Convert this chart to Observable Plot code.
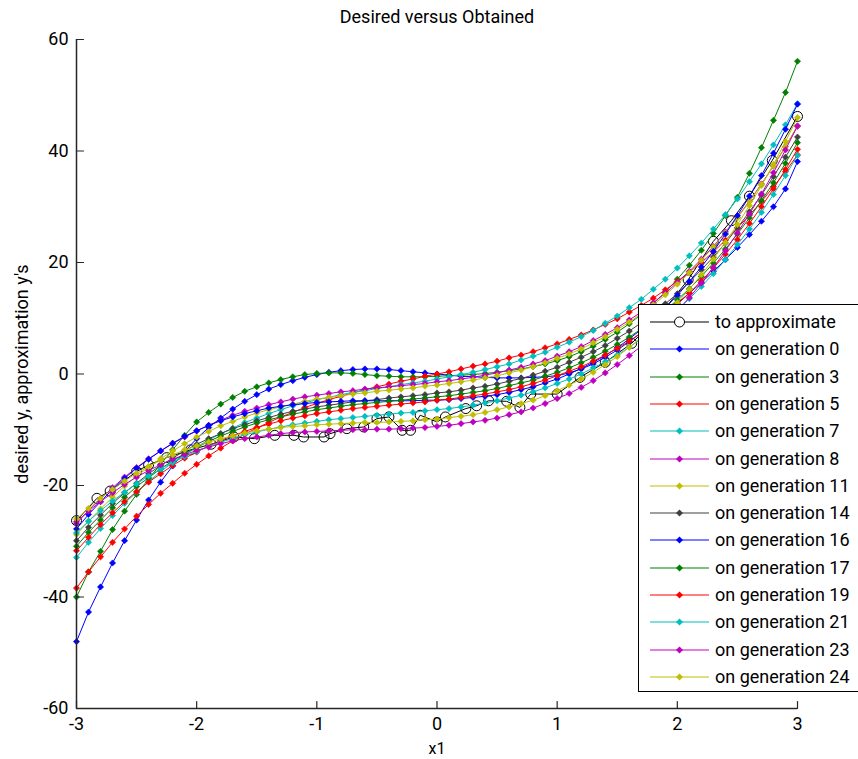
<!DOCTYPE html>
<html><head><meta charset="utf-8">
<script src="https://cdn.jsdelivr.net/npm/d3@7"></script>
<script src="https://cdn.jsdelivr.net/npm/@observablehq/plot@0.6"></script>
<style>
body{margin:0;background:#fff;}
#wrap{position:relative;width:858px;height:759px;overflow:hidden;font-family:Roboto,"Liberation Sans",Arial,sans-serif;}
#legend{position:absolute;left:638px;top:304px;width:240px;height:388px;background:#fff;border:1px solid #000;box-sizing:border-box;}
.row{position:absolute;left:0;height:24px;width:240px;}
.row svg{position:absolute;left:11px;top:0;}
.row span{position:absolute;left:76px;top:0;line-height:24px;font-size:18px;color:#000;white-space:nowrap;}
</style></head><body><div id="wrap"></div>
<script>
const xs = [-3,-2.9,-2.8,-2.7,-2.6,-2.5,-2.4,-2.3,-2.2,-2.1,-2,-1.9,-1.8,-1.7,-1.6,-1.5,-1.4,-1.3,-1.2,-1.1,-1,-0.9,-0.8,-0.7,-0.6,-0.5,-0.4,-0.3,-0.2,-0.1,0,0.1,0.2,0.3,0.4,0.5,0.6,0.7,0.8,0.9,1,1.1,1.2,1.3,1.4,1.5,1.6,1.7,1.8,1.9,2,2.1,2.2,2.3,2.4,2.5,2.6,2.7,2.8,2.9,3];

const targetX = [-3.0,-2.83,-2.72,-2.5,-2.4,-2.25,-2.05,-1.88,-1.69,-1.52,-1.35,-1.19,-1.11,-0.94,-0.89,-0.75,-0.61,-0.5,-0.4,-0.29,-0.22,-0.14,0.0,0.07,0.24,0.33,0.43,0.58,0.69,0.78,1.0,1.19,1.4,1.62,1.85,2.09,2.3,2.45,2.6,2.79,3.0];
const targetY = [-26.3,-22.3,-21.0,-17.5,-16.3,-15.0,-13.6,-12.6,-11.3,-11.6,-11.0,-11.0,-11.3,-11.3,-10.7,-9.8,-9.5,-8.0,-7.7,-10.1,-10.1,-7.4,-8.6,-7.7,-6.2,-5.7,-4.8,-4.9,-6.0,-3.6,-3.6,-0.6,2.1,5.5,10.5,16.9,23.8,27.5,31.9,38.3,46.2];

const gen0 = [-48.0,-42.7,-38.2,-33.9,-29.9,-26.2,-22.6,-19.4,-16.5,-13.9,-11.6,-9.6,-7.9,-6.3,-4.9,-3.7,-2.7,-1.9,-1.2,-0.6,-0.1,0.3,0.6,0.8,0.9,0.9,0.8,0.6,0.4,0.2,0.0,-0.2,-0.4,-0.5,-0.6,-0.7,-0.7,-0.7,-0.6,-0.5,-0.3,0.2,0.9,1.8,3.0,4.3,5.8,7.4,9.1,10.9,12.7,14.5,16.4,18.4,20.5,22.7,25.0,27.4,30.0,33.2,38.1];
const gen3 = [-40.0,-35.5,-31.8,-27.9,-24.6,-21.6,-18.8,-16.2,-13.6,-11.0,-8.6,-6.9,-5.4,-4.2,-3.1,-2.3,-1.6,-1.0,-0.5,-0.1,0.1,0.2,0.2,0.1,-0.1,-0.3,-0.4,-0.5,-0.5,-0.5,-0.4,-0.3,-0.2,-0.1,0.1,0.3,0.6,0.9,1.3,1.8,2.4,3.1,4.0,5.0,6.2,7.5,9.0,10.7,12.6,14.7,17.0,19.5,22.2,25.2,28.4,31.7,36.0,40.6,45.5,50.5,56.1];
const gen5 = [-38.4,-35.5,-32.8,-30.2,-27.8,-25.5,-23.4,-21.4,-19.6,-17.8,-16.2,-14.7,-13.3,-12.0,-10.8,-9.7,-8.7,-7.7,-6.9,-6.0,-5.3,-4.6,-4.0,-3.4,-2.8,-2.3,-1.8,-1.3,-0.9,-0.4,0.0,0.4,0.9,1.4,1.8,2.3,2.9,3.4,4.0,4.7,5.4,6.2,7.0,7.9,8.9,9.9,11.1,12.3,13.6,15.1,16.6,18.3,20.0,21.9,24.0,26.2,28.5,30.9,33.6,36.3,39.3];
const gen7 = [-32.9,-30.2,-27.7,-25.4,-23.2,-21.2,-19.3,-17.5,-15.9,-14.5,-13.1,-11.8,-10.7,-9.7,-8.7,-7.9,-7.1,-6.4,-5.7,-5.2,-4.6,-4.2,-3.7,-3.3,-3.0,-2.6,-2.3,-1.9,-1.6,-1.3,-0.9,-0.5,-0.1,0.3,0.8,1.3,1.8,2.5,3.2,3.9,4.8,5.7,6.7,7.8,9.1,10.4,11.9,13.4,15.2,17.0,19.0,21.2,23.5,26.0,28.6,31.4,34.5,37.7,41.1,44.7,48.5];
const gen8 = [-26.8,-24.5,-22.4,-20.4,-18.5,-16.8,-15.2,-13.8,-12.5,-11.3,-10.2,-9.2,-8.3,-7.4,-6.7,-6.1,-5.5,-5.0,-4.5,-4.1,-3.8,-3.5,-3.2,-3.0,-2.7,-2.5,-2.3,-2.1,-1.9,-1.7,-1.4,-1.2,-0.9,-0.6,-0.2,0.2,0.7,1.2,1.8,2.4,3.2,4.0,4.9,6.0,7.1,8.3,9.7,11.1,12.8,14.5,16.4,18.4,20.6,22.9,25.5,28.1,31.0,34.1,37.3,40.8,44.4];
const gen11 = [-28.8,-26.4,-24.2,-22.1,-20.1,-18.3,-16.7,-15.2,-13.8,-12.5,-11.3,-10.3,-9.3,-8.5,-7.7,-7.0,-6.4,-5.9,-5.4,-4.9,-4.5,-4.2,-3.9,-3.6,-3.4,-3.1,-2.9,-2.7,-2.5,-2.2,-2.0,-1.7,-1.4,-1.1,-0.7,-0.3,0.2,0.7,1.3,2.0,2.8,3.6,4.5,5.6,6.7,8.0,9.3,10.8,12.4,14.2,16.1,18.2,20.4,22.8,25.3,28.0,30.9,34.0,37.3,40.8,44.5];
const gen14 = [-29.9,-27.5,-25.3,-23.2,-21.3,-19.6,-17.9,-16.4,-15.1,-13.8,-12.6,-11.6,-10.7,-9.8,-9.1,-8.4,-7.8,-7.2,-6.7,-6.3,-5.9,-5.6,-5.3,-5.0,-4.8,-4.6,-4.3,-4.1,-3.9,-3.7,-3.4,-3.2,-2.9,-2.5,-2.2,-1.8,-1.3,-0.8,-0.2,0.5,1.2,2.1,3.0,4.0,5.1,6.4,7.7,9.2,10.8,12.6,14.4,16.5,18.7,21.0,23.5,26.2,29.1,32.1,35.4,38.9,42.5];
const gen16 = [-27.8,-25.2,-22.9,-20.7,-18.7,-16.9,-15.3,-13.8,-12.4,-11.2,-10.2,-9.2,-8.4,-7.7,-7.1,-6.6,-6.1,-5.8,-5.5,-5.3,-5.1,-5.0,-4.9,-4.8,-4.8,-4.8,-4.8,-4.8,-4.8,-4.7,-4.7,-4.6,-4.4,-4.2,-4.0,-3.7,-3.3,-2.8,-2.3,-1.6,-0.9,0.0,1.0,2.1,3.3,4.7,6.3,8.0,9.9,11.9,14.1,16.6,19.2,22.0,25.1,28.4,31.9,35.6,39.6,43.9,48.4];
const gen17 = [-30.9,-28.4,-26.2,-24.0,-22.1,-20.2,-18.6,-17.0,-15.6,-14.3,-13.2,-12.1,-11.1,-10.3,-9.5,-8.8,-8.2,-7.7,-7.2,-6.8,-6.4,-6.1,-5.8,-5.5,-5.3,-5.1,-4.9,-4.7,-4.5,-4.3,-4.1,-3.9,-3.6,-3.3,-3.0,-2.6,-2.1,-1.6,-1.1,-0.4,0.3,1.1,2.0,3.0,4.1,5.3,6.6,8.1,9.7,11.4,13.3,15.3,17.5,19.9,22.4,25.1,28.0,31.1,34.3,37.8,41.5];
const gen19 = [-31.7,-29.3,-27.0,-24.9,-22.9,-21.1,-19.4,-17.9,-16.4,-15.1,-14.0,-12.9,-11.9,-11.1,-10.3,-9.6,-9.0,-8.4,-7.9,-7.5,-7.1,-6.8,-6.5,-6.2,-6.0,-5.8,-5.6,-5.4,-5.2,-5.0,-4.7,-4.5,-4.2,-3.9,-3.6,-3.2,-2.8,-2.3,-1.7,-1.1,-0.3,0.5,1.3,2.3,3.4,4.6,5.9,7.4,9.0,10.7,12.5,14.5,16.7,19.0,21.5,24.1,27.0,30.0,33.2,36.7,40.3];
const gen21 = [-28.5,-26.4,-24.5,-22.8,-21.2,-19.7,-18.3,-17.0,-15.9,-14.8,-13.9,-13.0,-12.2,-11.6,-10.9,-10.4,-9.9,-9.5,-9.1,-8.8,-8.5,-8.2,-8.0,-7.8,-7.6,-7.4,-7.2,-7.0,-6.9,-6.6,-6.4,-6.2,-5.9,-5.6,-5.2,-4.8,-4.3,-3.8,-3.2,-2.5,-1.7,-0.9,0.0,1.1,2.2,3.4,4.8,6.3,7.9,9.6,11.5,13.5,15.7,18.0,20.5,23.2,26.0,29.0,32.2,35.6,39.2];
const gen23 = [-26.5,-24.6,-22.9,-21.3,-19.8,-18.5,-17.3,-16.3,-15.3,-14.5,-13.7,-13.1,-12.5,-12.0,-11.6,-11.3,-11.0,-10.7,-10.5,-10.4,-10.3,-10.2,-10.1,-10.0,-10.0,-9.9,-9.9,-9.8,-9.7,-9.6,-9.4,-9.2,-8.9,-8.6,-8.3,-7.9,-7.3,-6.8,-6.1,-5.3,-4.4,-3.5,-2.4,-1.2,0.2,1.7,3.3,5.0,7.0,9.0,11.3,13.7,16.3,19.1,22.1,25.3,28.7,32.3,36.1,40.2,44.5];
const gen24 = [-26.0,-24.1,-22.3,-20.7,-19.2,-17.8,-16.6,-15.5,-14.5,-13.6,-12.9,-12.2,-11.6,-11.1,-10.6,-10.2,-9.9,-9.6,-9.4,-9.3,-9.1,-9.0,-8.9,-8.8,-8.7,-8.7,-8.6,-8.5,-8.4,-8.2,-8.1,-7.8,-7.6,-7.3,-6.9,-6.4,-5.9,-5.3,-4.7,-3.9,-3.0,-2.0,-0.9,0.3,1.7,3.1,4.8,6.5,8.5,10.5,12.8,15.2,17.8,20.6,23.6,26.8,30.2,33.8,37.6,41.7,46.0];

const seriesNames = ["on generation 0","on generation 3","on generation 5","on generation 7","on generation 8","on generation 11","on generation 14","on generation 16","on generation 17","on generation 19","on generation 21","on generation 23","on generation 24"];
const seriesColors = ["#0000ff","#008000","#ff0000","#00bfbf","#bf00bf","#bfbf00","#404040","#0000ff","#008000","#ff0000","#00bfbf","#bf00bf","#bfbf00"];
const seriesValues = [gen0,gen3,gen5,gen7,gen8,gen11,gen14,gen16,gen17,gen19,gen21,gen23,gen24];

const xTicks = [-3,-2,-1,0,1,2,3];
const yTicks = [-60,-40,-20,0,20,40,60];
const titleText = "Desired versus Obtained";
const xLabel = "x1";
const yLabel = "desired y, approximation y's";
const targetName = "to approximate";

const targetRows = targetX.map((x, i) => ({x, y: targetY[i]}));
const axisColor = "#262626";
const tickShape = {draw(ctx, l) { ctx.moveTo(0, 0); ctx.lineTo(0, -l); }};

const seriesMarks = seriesValues.flatMap((vals, i) => {
  const rows = xs.map((x, j) => ({x, y: vals[j]}));
  return [
    Plot.line(rows, {x: "x", y: "y", stroke: seriesColors[i], strokeWidth: 1}),
    Plot.dot(rows, {x: "x", y: "y", symbol: "diamond2", r: 2.8, fill: seriesColors[i], stroke: seriesColors[i], strokeWidth: 0.6})
  ];
});

const chart = Plot.plot({
  width: 858, height: 759,
  marginLeft: 76, marginRight: 61, marginTop: 39, marginBottom: 51,
  style: {fontFamily: "Roboto, 'Liberation Sans', Arial, sans-serif", fontSize: "18px", color: "#000", background: "#fff"},
  x: {domain: [-3, 3]},
  y: {domain: [-60, 60]},
  marks: [
    Plot.line(targetRows, {x: "x", y: "y", stroke: "#000", strokeWidth: 1}),
    Plot.dot(targetRows, {x: "x", y: "y", r: 5, stroke: "#000", strokeWidth: 1, fill: "none"}),
    ...seriesMarks,
    Plot.ruleX([-3], {stroke: axisColor, strokeWidth: 1.5}),
    Plot.ruleY([-60], {stroke: axisColor, strokeWidth: 1.5}),
    Plot.vector(xTicks, {x: d => d, y: -60, length: 7, rotate: 0, anchor: "start", shape: tickShape, stroke: axisColor, strokeWidth: 1.2}),
    Plot.vector(yTicks, {x: -3, y: d => d, length: 7, rotate: 90, anchor: "start", shape: tickShape, stroke: axisColor, strokeWidth: 1.2}),
    Plot.axisX(xTicks, {tickSize: 0, tickPadding: 9, tickFormat: d => String(d), label: null, fontSize: 18}),
    Plot.axisY(yTicks, {tickSize: 0, tickPadding: 8, tickFormat: d => String(d), label: null, fontSize: 18}),
    Plot.text([titleText], {frameAnchor: "top", dy: -22, lineAnchor: "middle", text: d => d, fontSize: 18}),
    Plot.text([xLabel], {frameAnchor: "bottom", dy: 40, lineAnchor: "middle", text: d => d, fontSize: 16}),
    Plot.text([yLabel], {frameAnchor: "left", dx: -54, rotate: -90, textAnchor: "middle", lineAnchor: "middle", text: d => d, fontSize: 18})
  ]
});
const wrap = document.getElementById("wrap");
wrap.appendChild(chart);

// legend
const legend = document.createElement("div");
legend.id = "legend";
const entries = [{name: targetName, color: "#000", target: true}].concat(seriesNames.map((n, i) => ({name: n, color: seriesColors[i]})));
entries.forEach((e, i) => {
  const row = document.createElement("div");
  row.className = "row";
  row.style.top = (17 + i * 27.3 - 12) + "px";
  const mk = e.target
    ? `<circle cx="29.5" cy="12" r="5" fill="#fff" stroke="#000" stroke-width="1"/>`
    : `<rect x="27" y="9.5" width="5" height="5" transform="rotate(45 29.5 12)" fill="${e.color}"/>`;
  row.innerHTML = `<svg width="62" height="24"><line x1="0" y1="12" x2="59" y2="12" stroke="${e.color}" stroke-width="1.2"/>${mk}</svg><span>${e.name}</span>`;
  legend.appendChild(row);
});
wrap.appendChild(legend);
</script>
</body></html>
